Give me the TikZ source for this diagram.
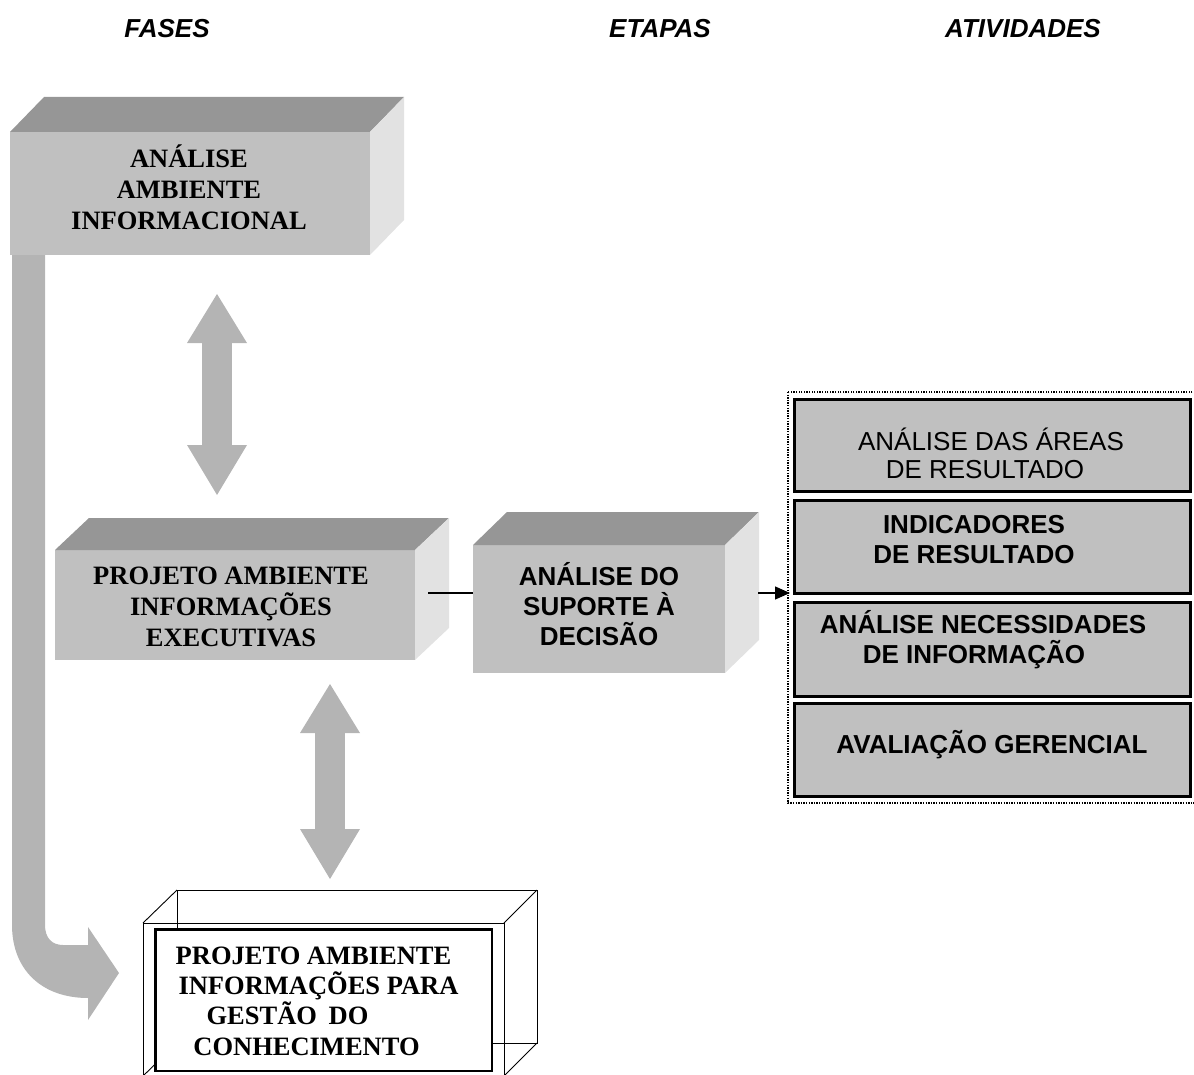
\documentclass[tikz,border=0pt]{standalone}
\usepackage{fontspec}
\setmainfont{Liberation Serif}
\setsansfont{Liberation Sans}
\usetikzlibrary{arrows.meta}
\definecolor{frontc}{HTML}{C0C0C0}
\definecolor{topc}{HTML}{969696}
\definecolor{sidec}{HTML}{E2E2E2}
\definecolor{arrc}{HTML}{B4B4B4}
\newcommand\boxfaces[3]{%
  \fill[topc] (#1.north west) -- ([shift={(#2,-#3)}]#1.north west) -- ([shift={(#2,-#3)}]#1.north east) -- (#1.north east) -- cycle;
  \fill[sidec] (#1.north east) -- ([shift={(#2,-#3)}]#1.north east) -- ([shift={(#2,-#3)}]#1.south east) -- (#1.south east) -- cycle;}
\newcommand\padr[1]{\rule{#1}{0pt}}
\begin{document}
\begin{tikzpicture}[x=1pt,y=-1pt,
  front/.style={fill=frontc, draw=none, inner sep=0pt, outer sep=0pt},
  serifbox/.style={font=\fontsize{26.5}{31}\selectfont\rmfamily\bfseries, align=center, inner sep=0pt},
  sansbox/.style={font=\fontsize{26}{30}\selectfont\sffamily\bfseries, align=center, inner sep=0pt},
  head/.style={font=\fontsize{26}{30}\selectfont\sffamily\bfseries\itshape},
  actbox/.style={fill=frontc, draw=black, line width=3pt, inner sep=0pt, outer sep=0pt, minimum width=396pt},
  acttext/.style={font=\fontsize{26}{30}\selectfont\sffamily\bfseries, align=center, inner sep=0pt},
  actreg/.style={font=\fontsize{26}{28}\selectfont\sffamily, align=center, inner sep=0pt},
  dbl/.style={draw=arrc, line width=30pt,
    {Triangle[length=49pt,width=60pt,line width=0pt]}-{Triangle[length=50pt,width=60pt,line width=0pt]}},
  thin/.style={draw=black, line width=0.9pt},
]
\useasboundingbox (0,0) rectangle (1194,1075);

% headers
\node[head] (fases) at (167,28.5) {FASES};
\node[head] (etapas) at (660,28.5) {ETAPAS};
\node[head] (ativ) at (1023,28.5) {ATIVIDADES};

% bent arrow
\fill[arrc] (12,255) -- (12,925) .. controls (12,970) and (42,998) .. (88,998)
  -- (88,1020) -- (119,973) -- (88,927) -- (88,945) -- (63,945)
  .. controls (52,945) and (45,938) .. (45,925) -- (45,255) -- cycle;

% top box
\node[front, minimum width=360pt, minimum height=123pt] (aai) at (190,193.5) {};
\boxfaces{aai}{34}{35}
\node[serifbox] (aait) at ([shift={(-1,-6)}]aai.center) {ANÁLISE\\AMBIENTE\\INFORMACIONAL};

% middle box 1
\node[front, minimum width=360pt, minimum height=110pt] (pae) at (235,605) {};
\boxfaces{pae}{34}{32}
\node[serifbox] (paet) at ([shift={(-4,2)}]pae.center) {PROJETO AMBIENTE\\INFORMAÇÕES\\EXECUTIVAS};

% middle box 2
\node[front, minimum width=252pt, minimum height=128pt] (asd) at (599,609) {};
\boxfaces{asd}{34}{33}
\node[sansbox] (asdt) at ([shift={(0,-5)}]asd.center) {ANÁLISE DO\\SUPORTE À\\DECISÃO};

% connectors
\coordinate (c1) at (428,593);
\draw[line width=1.3pt] (c1) -- (c1 -| asd.west);
\coordinate (c2) at (758,593);
\coordinate (acttip) at (790,593);
\draw[line width=1.3pt, -{Triangle[length=15pt,width=13pt]}] (c2) -- (acttip);

% double arrows
\coordinate (d1t) at (217,294);
\coordinate (d1b) at (217,495);
\draw[dbl] (d1t) -- (d1b);
\coordinate (d2t) at (330,684);
\coordinate (d2b) at (330,879);
\draw[dbl] (d2t) -- (d2b);

% activities
\draw[black, line width=1.3pt, dash pattern=on 1.3pt off 1.3pt] (788,392) rectangle (1198,803);
\node[actbox, minimum height=92pt] (a1) at (992.5,445.5) {};
\node[actbox, minimum height=93pt] (a2) at (992.5,547) {};
\node[actbox, minimum height=94pt] (a3) at (992.5,649.5) {};
\node[actbox, minimum height=93pt] (a4) at (992.5,750) {};
\node[actreg] (t1) at (991,453) {ANÁLISE DAS ÁREAS\\DE RESULTADO\padr{12pt}};
\node[acttext] (t2) at (974,540) {INDICADORES\\DE RESULTADO};
\node[acttext] (t3) at (983,640) {ANÁLISE NECESSIDADES\\DE INFORMAÇÃO\padr{18pt}};
\node[acttext] (t4) at (992,745) {AVALIAÇÃO GERENCIAL};

% bottom wireframe box
\draw[thin] (177,890) rectangle (537,1043);
\draw[thin] (143,923) rectangle (504,1076);
\draw[thin] (143,923) -- (177,890) (504,923) -- (537,890)
  (504,1076) -- (537,1043) (143,1076) -- (177,1043);
\node[draw=black, line width=2.5pt, fill=white, inner sep=0pt,
  minimum width=336.5pt, minimum height=141.5pt] (pgc) at (323.5,1000) {};
\node[serifbox, font=\fontsize{26.5}{30.3}\selectfont\rmfamily\bfseries] (pgct) at ([shift={(-5,1)}]pgc.center)
  {PROJETO AMBIENTE\padr{10pt}\\INFORMAÇÕES PARA\\GESTÃO\hspace{5pt} DO\padr{62pt}\\CONHECIMENTO\padr{24pt}};
\end{tikzpicture}
\end{document}
